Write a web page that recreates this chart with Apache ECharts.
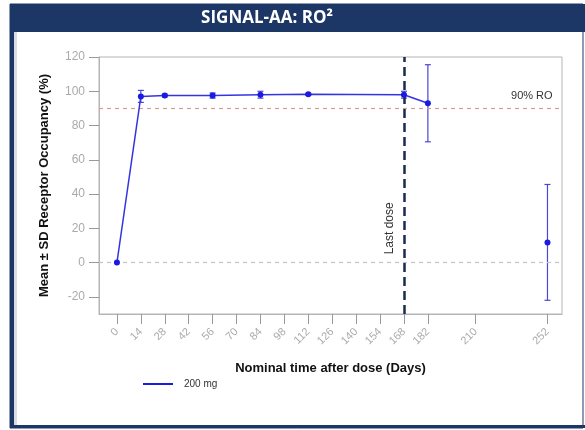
<!DOCTYPE html>
<html><head><meta charset="utf-8">
<script src="https://cdn.jsdelivr.net/npm/echarts@6/dist/echarts.min.js"></script>
<style>html,body{margin:0;padding:0;background:#fff}#c{width:585px;height:430px}</style>
</head><body><div id="c"></div>
<script>
const days   = [0, 14, 28, 56, 84, 112, 168, 182];
const means  = [0, 97, 97.5, 97.5, 98, 98.2, 98, 93];
const sds    = [0, 3.5, 0.8, 1.5, 2, 0.6, 2, 22.5];
const lateDay = [252];
const lateMean = [11.8];
const lateSd = [33.8];
const xTicks = [0,14,28,42,56,70,84,98,112,126,140,154,168,182,210,252];
const yTicks = [-20,0,20,40,60,80,100,120];
const lastDoseDay = 168;
const roThreshold = 90;

const blue = '#1a1ae0';
const mainPts = days.map((d,i)=>[d, means[i]]);
const latePts = lateDay.map((d,i)=>[d, lateMean[i]]);
const errData = days.map((d,i)=>[d, means[i]-sds[i], means[i]+sds[i]])
  .filter((e,i)=>sds[i]>0)
  .concat(lateDay.map((d,i)=>[d, lateMean[i]-lateSd[i], lateMean[i]+lateSd[i]]));

const chart = echarts.init(document.getElementById('c'));
const font = 'Liberation Sans, Arial, sans-serif';
const frame = [
  {type:'rect', shape:{x:10,y:4,width:573,height:424}, style:{fill:'#fff', stroke:'#1c3766', lineWidth:1}, z:-10},
  {type:'rect', shape:{x:10,y:4,width:575,height:28}, style:{fill:'#1c3766'}, z:-9},
  {type:'rect', shape:{x:10,y:4,width:4,height:424}, style:{fill:'#1c3766'}, z:-9},
  {type:'rect', shape:{x:10,y:425,width:575,height:3}, style:{fill:'#1c3766'}, z:-9},
  {type:'rect', shape:{x:14,y:32,width:3,height:393}, style:{fill:'#d8dce4'}, z:-9},
  {type:'text', x:267, y:18, style:{text:'SIGNAL-AA: RO²', fill:'#fff', font:'bold 17px "Open Sans", sans-serif', align:'center', verticalAlign:'middle'}, z:10}
];
chart.setOption({
  animation:false,
  textStyle:{fontFamily:font},
  graphic:frame,
  grid:{left:99, right:23, top:57, bottom:116, show:true, borderColor:'#b5b5b5', borderWidth:1},
  legend:{left:138, top:374, itemWidth:30, itemHeight:10, icon:'path://M0,4L30,4L30,6L0,6Z',
    data:[{name:'200 mg'}], textStyle:{fontSize:10, color:'#333', padding:[0,0,0,6]}},
  xAxis:{type:'value', min:-10.5, max:260.5,
    name:'Nominal time after dose (Days)', nameLocation:'middle', nameGap:48,
    nameTextStyle:{fontSize:13, fontWeight:'bold', color:'#111'},
    axisLine:{show:true, onZero:false, lineStyle:{color:'#b5b5b5'}},
    axisTick:{show:true, length:10, customValues:xTicks, lineStyle:{color:'#999'}},
    axisLabel:{customValues:xTicks, rotate:45, color:'#aaa', fontSize:11, margin:16},
    splitLine:{show:false}},
  yAxis:{type:'value', min:-30, max:120,
    name:'Mean ± SD Receptor Occupancy (%)', nameLocation:'middle', nameGap:48,
    nameTextStyle:{fontSize:13, fontWeight:'bold', color:'#111'},
    axisLine:{show:true, onZero:false, lineStyle:{color:'#b5b5b5'}},
    axisTick:{show:true, length:10, customValues:yTicks, lineStyle:{color:'#999'}},
    axisLabel:{customValues:yTicks, color:'#aaa', fontSize:12, margin:14},
    splitLine:{show:false}},
  series:[
    {name:'200 mg', type:'line', data:mainPts, symbol:'circle', symbolSize:6,
      itemStyle:{color:blue}, lineStyle:{color:'#3535e0', width:1.5}, z:5,
      markLine:{silent:true, symbol:'none', label:{show:false},
        data:[
          {yAxis:roThreshold, lineStyle:{color:'#d99a92', type:[4,4], width:1.2}},
          {yAxis:0, lineStyle:{color:'#c4c4c4', type:[4,4], width:1.2}},
          {xAxis:lastDoseDay, lineStyle:{color:'#1b2a50', type:[9,5], width:2.5}}
        ]}},
    {name:'200 mg', type:'line', data:latePts, symbol:'circle', symbolSize:6,
      itemStyle:{color:blue}, lineStyle:{color:'#4a4ae0', width:1.5}, z:5},
    {type:'custom', data:errData, z:4,
      renderItem:function(params, api){
        const x = api.value(0);
        const lo = api.coord([x, api.value(1)]);
        const hi = api.coord([x, api.value(2)]);
        const c = 3;
        return {type:'group', children:[
          {type:'line', shape:{x1:lo[0],y1:lo[1],x2:hi[0],y2:hi[1]}, style:{stroke:'#4848d8', lineWidth:1.2}},
          {type:'line', shape:{x1:lo[0]-c,y1:lo[1],x2:lo[0]+c,y2:lo[1]}, style:{stroke:'#4848d8', lineWidth:1.2}},
          {type:'line', shape:{x1:hi[0]-c,y1:hi[1],x2:hi[0]+c,y2:hi[1]}, style:{stroke:'#4848d8', lineWidth:1.2}}
        ]};
      }}
  ]
});
const pLast = chart.convertToPixel({gridIndex:0}, [lastDoseDay, 20]);
const pRO = chart.convertToPixel({gridIndex:0}, [255, roThreshold]);
chart.setOption({graphic: frame.concat([
  {type:'text', x:pLast[0]-14, y:pLast[1], rotation:Math.PI/2,
    style:{text:'Last dose', fill:'#333', font:'12px "Liberation Sans", Arial, sans-serif', align:'center', verticalAlign:'middle'}, z:10},
  {type:'text', x:pRO[0], y:pRO[1]-12,
    style:{text:'90% RO', fill:'#333', font:'11px "Liberation Sans", Arial, sans-serif', align:'right', verticalAlign:'middle'}, z:10}
])}, {replaceMerge:['graphic']});
</script></body></html>
